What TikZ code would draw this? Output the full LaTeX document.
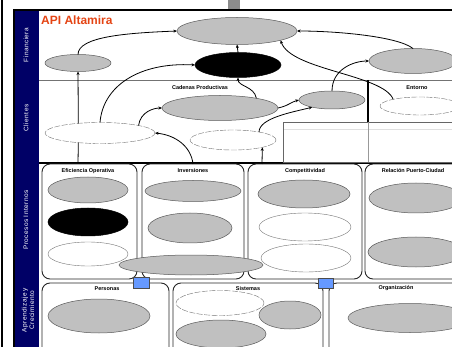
\documentclass[tikz,border=0pt]{standalone}
\usepackage{fontspec}
\setmainfont{Liberation Sans}
\newfontfamily\bandfont[LetterSpace=7]{Liberation Sans}
\usetikzlibrary{arrows.meta,shapes.geometric}
\definecolor{navyband}{RGB}{0,0,102}
\definecolor{titlered}{RGB}{228,68,20}
\definecolor{objgray}{RGB}{192,192,192}
\definecolor{linkblue}{RGB}{102,153,255}
\begin{document}
\begin{tikzpicture}[x=1pt,y=-1pt,
  obj/.style={ellipse,inner sep=0pt,outer sep=0pt,draw=black!65,line width=0.5pt},
  grayobj/.style={obj,fill=objgray},
  blackobj/.style={obj,fill=black,draw=black},
  whiteobj/.style={obj,fill=white,draw=black!55,line width=0.4pt},
  dashobj/.style={whiteobj,dash pattern=on 6pt off 1.5pt},
  area/.style={draw=black!85,line width=0.9pt,rounded corners=8pt,inner sep=0pt,outer sep=0pt,anchor=north west},
  themelabel/.style={font=\bfseries\fontsize{5.5}{6}\selectfont,inner sep=0pt},
  bandlabel/.style={text=white,rotate=90,font=\bandfont\fontsize{6.5}{7.5}\selectfont,align=center,inner sep=0pt},
  conn/.style={line width=0.8pt,-{Stealth[length=3.5pt,width=3pt]}},
  plainconn/.style={line width=0.8pt},
  joint/.style={draw=black!70,fill=linkblue,line width=0.5pt,inner sep=0pt,anchor=north west},
]
\useasboundingbox (0,0) rectangle (452,347);
\clip (0,0) rectangle (452,347);

% page frame and perspective band
\draw[line width=2pt] (2,-2) -- (2,350);
\fill[black!45] (228,0) rectangle (240,9);
\fill[navyband] (14,10) rectangle (39,360);
\draw[line width=1.5pt] (14,10) rectangle (470,370);

% perspective separators
\draw[black!55,line width=0.6pt] (39,80) -- (460,80);
\draw[line width=1.2pt] (39,163) -- (460,163);
\draw[line width=1.2pt] (368,80) -- (368,122);

% empty table under Entorno
\draw[black!60,line width=0.6pt] (283,122) rectangle (470,162);
\draw[black!12,line width=0.6pt] (284,129) -- (460,129);
\draw[black!40,line width=0.6pt] (368,122) -- (368,162);

% band labels
\node[bandlabel] (lfin) at (26,45) {Financiera};
\node[bandlabel] (lcli) at (26,118) {Clientes};
\node[bandlabel] (lpro) at (26,220) {Procesos Internos};
\node[bandlabel] (lapr) at (28,310) {Aprendizaje y\\Crecimiento};

% title
\node[anchor=west,text=titlered,font=\bfseries\fontsize{12}{14}\selectfont,inner sep=0pt] (title) at (41,20) {API Altamira};

% internal process areas
\node[area,minimum width=95pt,minimum height=115pt] (B1) at (42,164) {};
\node[area,minimum width=102pt,minimum height=115pt] (B2) at (142,164) {};
\node[area,minimum width=114pt,minimum height=115pt] (B3) at (248,164) {};
\node[area,minimum width=100pt,minimum height=115pt] (B4) at (365,164) {};

% learning and growth areas
\node[area,minimum width=127pt,minimum height=80pt] (A1) at (42,283) {};
\node[area,minimum width=150pt,minimum height=80pt] (A2) at (173,283) {};
\node[area,minimum width=140pt,minimum height=80pt] (A3) at (329,283) {};

% links between the two lower perspectives
\node[joint,minimum width=16pt,minimum height=11pt] (Q1) at (133,277) {};
\node[joint,minimum width=15pt,minimum height=10pt] (Q2) at (318,278) {};

% area titles
\node[themelabel] (tcad) at (200,88) {Cadenas Productivas};
\node[themelabel] (tent) at (417,88) {Entorno};
\node[themelabel] (teff) at (88,171) {Eficiencia Operativa};
\node[themelabel] (tinv) at (193,171) {Inversiones};
\node[themelabel] (tcom) at (305,171) {Competitividad};
\node[themelabel] (trel) at (413,171) {Relación Puerto-Ciudad};
\node[themelabel] (tper) at (107,289) {Personas};
\node[themelabel] (tsis) at (248,289) {Sistemas};
\node[themelabel] (torg) at (396,288) {Organización};

% financial objectives
\node[grayobj,minimum width=120pt,minimum height=27pt] (F1) at (237,31) {};
\node[blackobj,minimum width=86pt,minimum height=25pt] (F2) at (238,65) {};
\node[grayobj,minimum width=66pt,minimum height=17pt] (F3) at (78,63) {};
\node[grayobj,minimum width=88pt,minimum height=25pt] (F4) at (413,61) {};

% customer objectives
\node[grayobj,minimum width=116pt,minimum height=25pt] (C1) at (220,108) {};
\node[grayobj,minimum width=66pt,minimum height=18pt] (C2) at (332,100) {};
\node[dashobj,minimum width=80pt,minimum height=18pt] (C3) at (420,106) {};
\node[dashobj,minimum width=110pt,minimum height=21pt] (C4) at (100,133) {};
\node[dashobj,minimum width=86pt,minimum height=20pt] (C5) at (233,140) {};

% internal process objectives
\node[grayobj,minimum width=80pt,minimum height=26pt] (P1) at (88,190) {};
\node[blackobj,minimum width=80pt,minimum height=28pt] (P2) at (88,222) {};
\node[whiteobj,minimum width=80pt,minimum height=24pt] (P3) at (88,254) {};
\node[grayobj,minimum width=96pt,minimum height=21pt] (P4) at (193,191) {};
\node[grayobj,minimum width=84pt,minimum height=30pt] (P5) at (190,228) {};
\node[grayobj,minimum width=144pt,minimum height=20pt] (P6) at (191,265) {};
\node[grayobj,minimum width=92pt,minimum height=28pt] (P7) at (304,194) {};
\node[whiteobj,minimum width=92pt,minimum height=28pt] (P8) at (305,227) {};
\node[whiteobj,minimum width=90pt,minimum height=28pt] (P9) at (306,258) {};
\node[grayobj,minimum width=94pt,minimum height=30pt] (P10) at (416,198) {};
\node[grayobj,minimum width=96pt,minimum height=30pt] (P11) at (416,252) {};

% learning and growth objectives
\node[grayobj,minimum width=102pt,minimum height=34pt] (L1) at (99,316) {};
\node[dashobj,minimum width=88pt,minimum height=25pt] (L2) at (220,303) {};
\node[grayobj,minimum width=90pt,minimum height=28pt] (L3) at (221,334) {};
\node[grayobj,minimum width=62pt,minimum height=28pt] (L4) at (290,315) {};
\node[grayobj,minimum width=124pt,minimum height=29pt] (L5) at (410,318) {};

% cause-effect links
\coordinate (effroot) at (78,163);
\coordinate (comroot) at (262,164);
\draw[conn] (F3.north) .. controls +(0,-18) and +(-50,2) .. (F1.west);
\draw[conn] (C4.156) -- (F3.south);
\draw[plainconn] (effroot) -- (C4.204);
\draw[conn] (C4.north) .. controls +(3,-37) and +(-55,-3) .. (F2.west);
\draw[conn] (C4.11) .. controls +(2,-14) and +(-8,0) .. (C1.west);
\draw[conn] (B2.north) .. controls +(-2,-18) and +(20,2) .. (C4.east);
\draw[conn] (C1.15) .. controls +(-2,-12) and +(0,9) .. (F2.south);
\draw[conn] (C1.east) .. controls +(10,-2) and +(-8,2) .. (C2.west);
\draw[conn] (C5.17) .. controls +(0,-14) and +(-20,5) .. (C2.200);
\draw[conn] (comroot) -- (C5.-14);
\draw[conn] (C2.north) .. controls +(0,-22) and +(-15,0) .. (F4.west);
\draw[conn] (F4.north) .. controls +(-15,-12) and +(40,0) .. (F1.east);
\draw[conn] (C3.166) .. controls +(-10,-25) and +(10,30) .. (F1.-12);
\draw[conn] (F2.north) -- (F1.south);
\end{tikzpicture}
\end{document}
